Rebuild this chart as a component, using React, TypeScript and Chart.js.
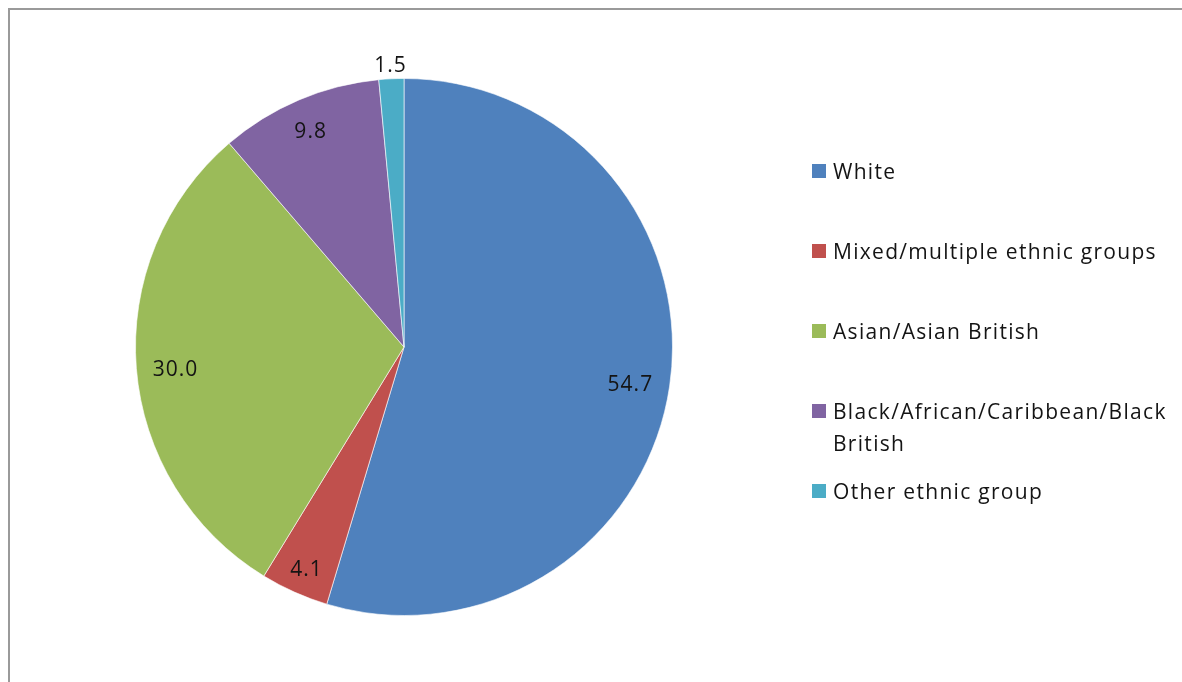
import React, { useEffect, useRef } from 'react';
import { Chart, registerables } from 'chart.js';

Chart.register(...registerables);

const categories = [
  'White',
  'Mixed/multiple ethnic groups',
  'Asian/Asian British',
  'Black/African/Caribbean/Black British',
  'Other ethnic group',
];
const values = [54.7, 4.1, 30.0, 9.8, 1.5];
const colors = ['#4F81BD', '#C0504D', '#9BBB59', '#8064A2', '#4BACC6'];

const FONT = '"Open Sans", "Noto Sans", sans-serif';

const sliceLabels = {
  id: 'sliceLabels',
  afterDatasetsDraw(chart: any) {
    const ctx = chart.ctx as CanvasRenderingContext2D;
    const meta = chart.getDatasetMeta(0);
    const ds = chart.data.datasets[0];
    ctx.save();
    ctx.font = `21px ${FONT}`;
    (ctx as any).letterSpacing = '1px';
    ctx.fillStyle = '#141414';
    ctx.textAlign = 'center';
    ctx.textBaseline = 'middle';
    const halfH = 8;
    meta.data.forEach((arc: any, i: number) => {
      const { x, y, startAngle, endAngle, outerRadius } = arc.getProps(
        ['x', 'y', 'startAngle', 'endAngle', 'outerRadius'],
        true
      );
      const mid = (startAngle + endAngle) / 2;
      const dx = Math.cos(mid);
      const dy = Math.sin(mid);
      const text = Number(ds.data[i]).toFixed(1);
      const w = ctx.measureText(text).width;
      const proj = (w / 2) * Math.abs(dx) + halfH * Math.abs(dy);
      const span = endAngle - startAngle;
      let d = outerRadius - 16 - proj;
      if (span * d < w + 8) {
        d = outerRadius + 9 + proj;
      }
      ctx.fillText(text, x + dx * d, y + dy * d + 5);
    });
    ctx.restore();
  },
};

export default function App() {
  const canvasRef = useRef<HTMLCanvasElement | null>(null);

  useEffect(() => {
    if (!canvasRef.current) return;
    const chart = new Chart(canvasRef.current, {
      type: 'pie',
      data: {
        labels: categories,
        datasets: [
          {
            data: values,
            backgroundColor: colors,
            borderColor: 'rgba(255,255,255,0.6)',
            borderWidth: 1,
          },
        ],
      },
      options: {
        animation: false,
        responsive: false,
        maintainAspectRatio: false,
        layout: { padding: { left: 125, top: 68, right: 509, bottom: 66 } },
        plugins: {
          legend: { display: false },
          tooltip: { enabled: false },
        },
      },
      plugins: [sliceLabels],
    });
    return () => chart.destroy();
  }, []);

  return (
    <div
      style={{
        position: 'fixed',
        left: 8,
        top: 8,
        width: 1174,
        height: 674,
        boxSizing: 'border-box',
        borderTop: '2px solid #9a9a9a',
        borderLeft: '2px solid #9a9a9a',
        background: '#fff',
      }}
    >
      <canvas ref={canvasRef} width={1172} height={672} style={{ display: 'block' }} />
      <div
        style={{
          position: 'absolute',
          left: 802,
          top: 145,
          fontFamily: FONT,
          fontSize: 21,
          letterSpacing: '1.3px',
          lineHeight: '32px',
          color: '#141414',
        }}
      >
        {categories.map((c, i) => (
          <div key={c} style={{ display: 'flex', alignItems: 'flex-start', height: 80 }}>
            <span
              style={{
                width: 14,
                height: 14,
                marginTop: 9,
                marginRight: 7,
                background: colors[i],
                flex: 'none',
              }}
            />
            <span style={{ width: 345 }}>{c}</span>
          </div>
        ))}
      </div>
    </div>
  );
}
